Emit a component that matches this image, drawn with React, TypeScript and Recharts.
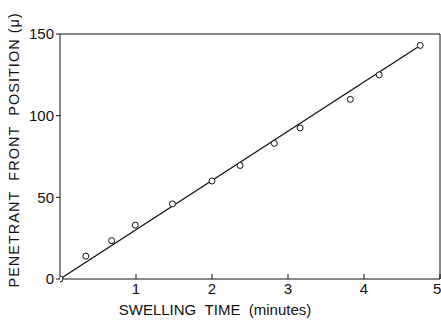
import { ScatterChart, Scatter, XAxis, YAxis } from 'recharts';

// swelling time (minutes) vs penetrant front position (microns)
const timeMin = [0, 0.34, 0.68, 0.99, 1.48, 2.0, 2.37, 2.82, 3.16, 3.82, 4.2, 4.74];
const frontPos = [0, 14, 23.5, 33, 46, 60, 69.5, 83, 92.5, 110, 125, 143];

// fitted straight line, end points
const fitTime = [0, 4.74];
const fitPos = [0, 143];

const xTicks = [1, 2, 3, 4, 5];
const yTicks = [0, 50, 100, 150];

const ink = '#111';
const font = '"Liberation Sans", Arial, sans-serif';
const gap = '\u00a0\u00a0';

const points = timeMin.map((t, i) => ({ t, p: frontPos[i] }));
const fit = fitTime.map((t, i) => ({ t, p: fitPos[i] }));

const OpenDot = (props: any) => (
  <circle cx={props.cx} cy={props.cy} r={3} fill="#fff" stroke={ink} strokeWidth={1} />
);

export default function App() {
  return (
    <div style={{ position: 'absolute', left: 0, top: 0, background: '#fff' }}>
      <ScatterChart width={441} height={323} margin={{ top: 33, right: 0, bottom: 8, left: 22 }}>
        <XAxis
          dataKey="t"
          type="number"
          domain={[0, 5]}
          ticks={xTicks}
          allowDataOverflow
          height={36}
          stroke={ink}
          tickSize={-5}
          tickMargin={9}
          tick={{ fill: ink, fontSize: 15, fontFamily: font }}
          label={{ value: `SWELLING${gap}TIME${gap}(minutes)`, position: 'insideBottom', offset: 0, dx: -35, fill: ink, fontSize: 15, fontFamily: font }}
        />
        <XAxis
          xAxisId="top"
          orientation="top"
          dataKey="t"
          type="number"
          domain={[0, 5]}
          ticks={xTicks}
          height={1}
          stroke={ink}
          tickSize={-5}
          tick={<g />}
        />
        <YAxis
          dataKey="p"
          type="number"
          domain={[0, 150]}
          ticks={yTicks}
          width={38}
          stroke={ink}
          tickSize={4}
          tickMargin={2}
          tick={{ fill: ink, fontSize: 15, fontFamily: font }}
          label={{ value: `PENETRANT${gap}FRONT${gap}POSITION (\u03bc)`, angle: -90, position: 'insideLeft', offset: -8, dy: 131, fill: ink, fontSize: 14.5, fontFamily: font, letterSpacing: 1 }}
        />
        <YAxis
          yAxisId="right"
          orientation="right"
          dataKey="p"
          type="number"
          domain={[0, 150]}
          ticks={[50, 100]}
          width={1}
          stroke={ink}
          tickSize={-5}
          tick={<g />}
        />
        <Scatter xAxisId={0} yAxisId={0} data={fit} line={{ stroke: ink, strokeWidth: 1.3 }} shape={() => <g />} isAnimationActive={false} />
        <Scatter xAxisId={0} yAxisId={0} data={points} shape={OpenDot} isAnimationActive={false} />
      </ScatterChart>
    </div>
  );
}
